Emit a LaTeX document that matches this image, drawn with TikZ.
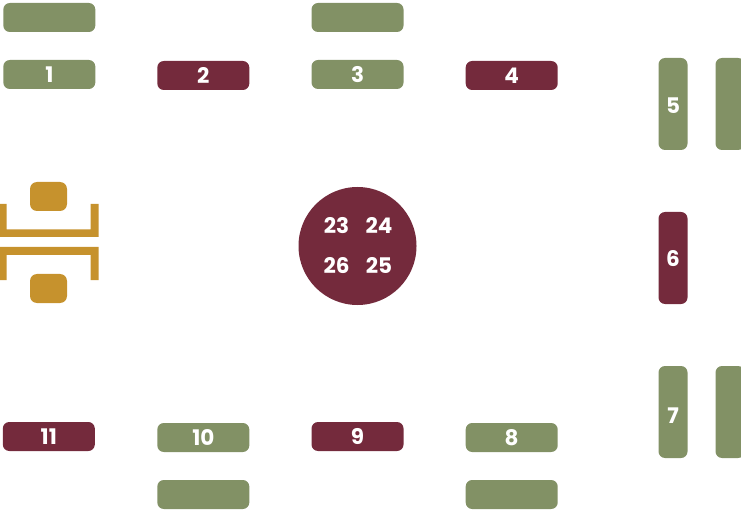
\documentclass[tikz,border=0pt]{standalone}
\usepackage{fontspec}
\setmainfont{Poppins}
\definecolor{sage}{HTML}{829165}
\definecolor{wine}{HTML}{742A3C}
\definecolor{gold}{HTML}{C6922D}
\tikzset{
  tbl/.style={rounded corners=6.5bp,inner sep=0pt,outer sep=0pt,text=white,font=\bfseries\fontsize{21.5bp}{24bp}\selectfont},
  hbar/.style={tbl,minimum width=92bp,minimum height=29bp},
  vbar/.style={tbl,minimum width=29bp,minimum height=92bp},
  sagefill/.style={fill=sage},
  winefill/.style={fill=wine},
  seat/.style={fill=gold,rounded corners=7bp,inner sep=0pt,minimum width=37bp,minimum height=29bp},
  bigtable/.style={circle,fill=wine,inner sep=0pt,minimum size=118bp},
  seatnum/.style={text=white,inner sep=0pt,font=\bfseries\fontsize{21.5bp}{24bp}\selectfont},
  frame/.style={fill=gold}
}
\begin{document}
\begin{tikzpicture}[x=1bp,y=-1bp]
\useasboundingbox (0,0) rectangle (741,511);
\clip (0,0) rectangle (741,511);
\node[hbar,sagefill] (t1b) at (49.3,17.5) {};
\node[hbar,sagefill] (t1) at (49.3,74.5) {1};
\node[hbar,winefill] (t2) at (203.3,75.5) {2};
\node[hbar,sagefill] (t3b) at (357.5,17.5) {};
\node[hbar,sagefill] (t3) at (357.5,74.5) {3};
\node[hbar,winefill] (t4) at (511.7,75.5) {4};
\node[vbar,sagefill,text height=19bp,text depth=0bp] (t5) at (673,104) {5};
\node[vbar,sagefill] (t5b) at (730,104) {};
\node[vbar,winefill,text height=17bp,text depth=0bp] (t6) at (673,258) {6};
\node[vbar,sagefill,text height=23bp,text depth=0bp] (t7) at (673,412) {7};
\node[vbar,sagefill] (t7b) at (730,412) {};
\node[hbar,sagefill] (t8) at (511.7,437.5) {8};
\node[hbar,sagefill] (t8b) at (511.7,494.5) {};
\node[hbar,winefill] (t9) at (357.5,436.5) {9};
\node[hbar,sagefill] (t10) at (203.3,437.5) {10};
\node[hbar,sagefill] (t10b) at (203.3,494.5) {};
\node[hbar,winefill] (t11) at (48.8,436.5) {11};
\node[bigtable] (round) at (357.5,246) {};
\node[seatnum] (s23) at (336.5,225.5) {23};
\node[seatnum] (s24) at (379,225.5) {24};
\node[seatnum] (s26) at (336.5,265.5) {26};
\node[seatnum] (s25) at (379,265.5) {25};
\node[seat] (c1) at (48.5,196.5) {};
\node[seat] (c2) at (48.5,288.5) {};
\fill[frame] (0,204) -- (6.5,204) -- (6.5,229.5) -- (90.5,229.5) -- (90.5,204) -- (98.5,204) -- (98.5,237) -- (0,237) -- cycle;
\fill[frame] (0,280) -- (6.5,280) -- (6.5,255) -- (90.5,255) -- (90.5,280) -- (98.5,280) -- (98.5,247) -- (0,247) -- cycle;
\end{tikzpicture}
\end{document}
